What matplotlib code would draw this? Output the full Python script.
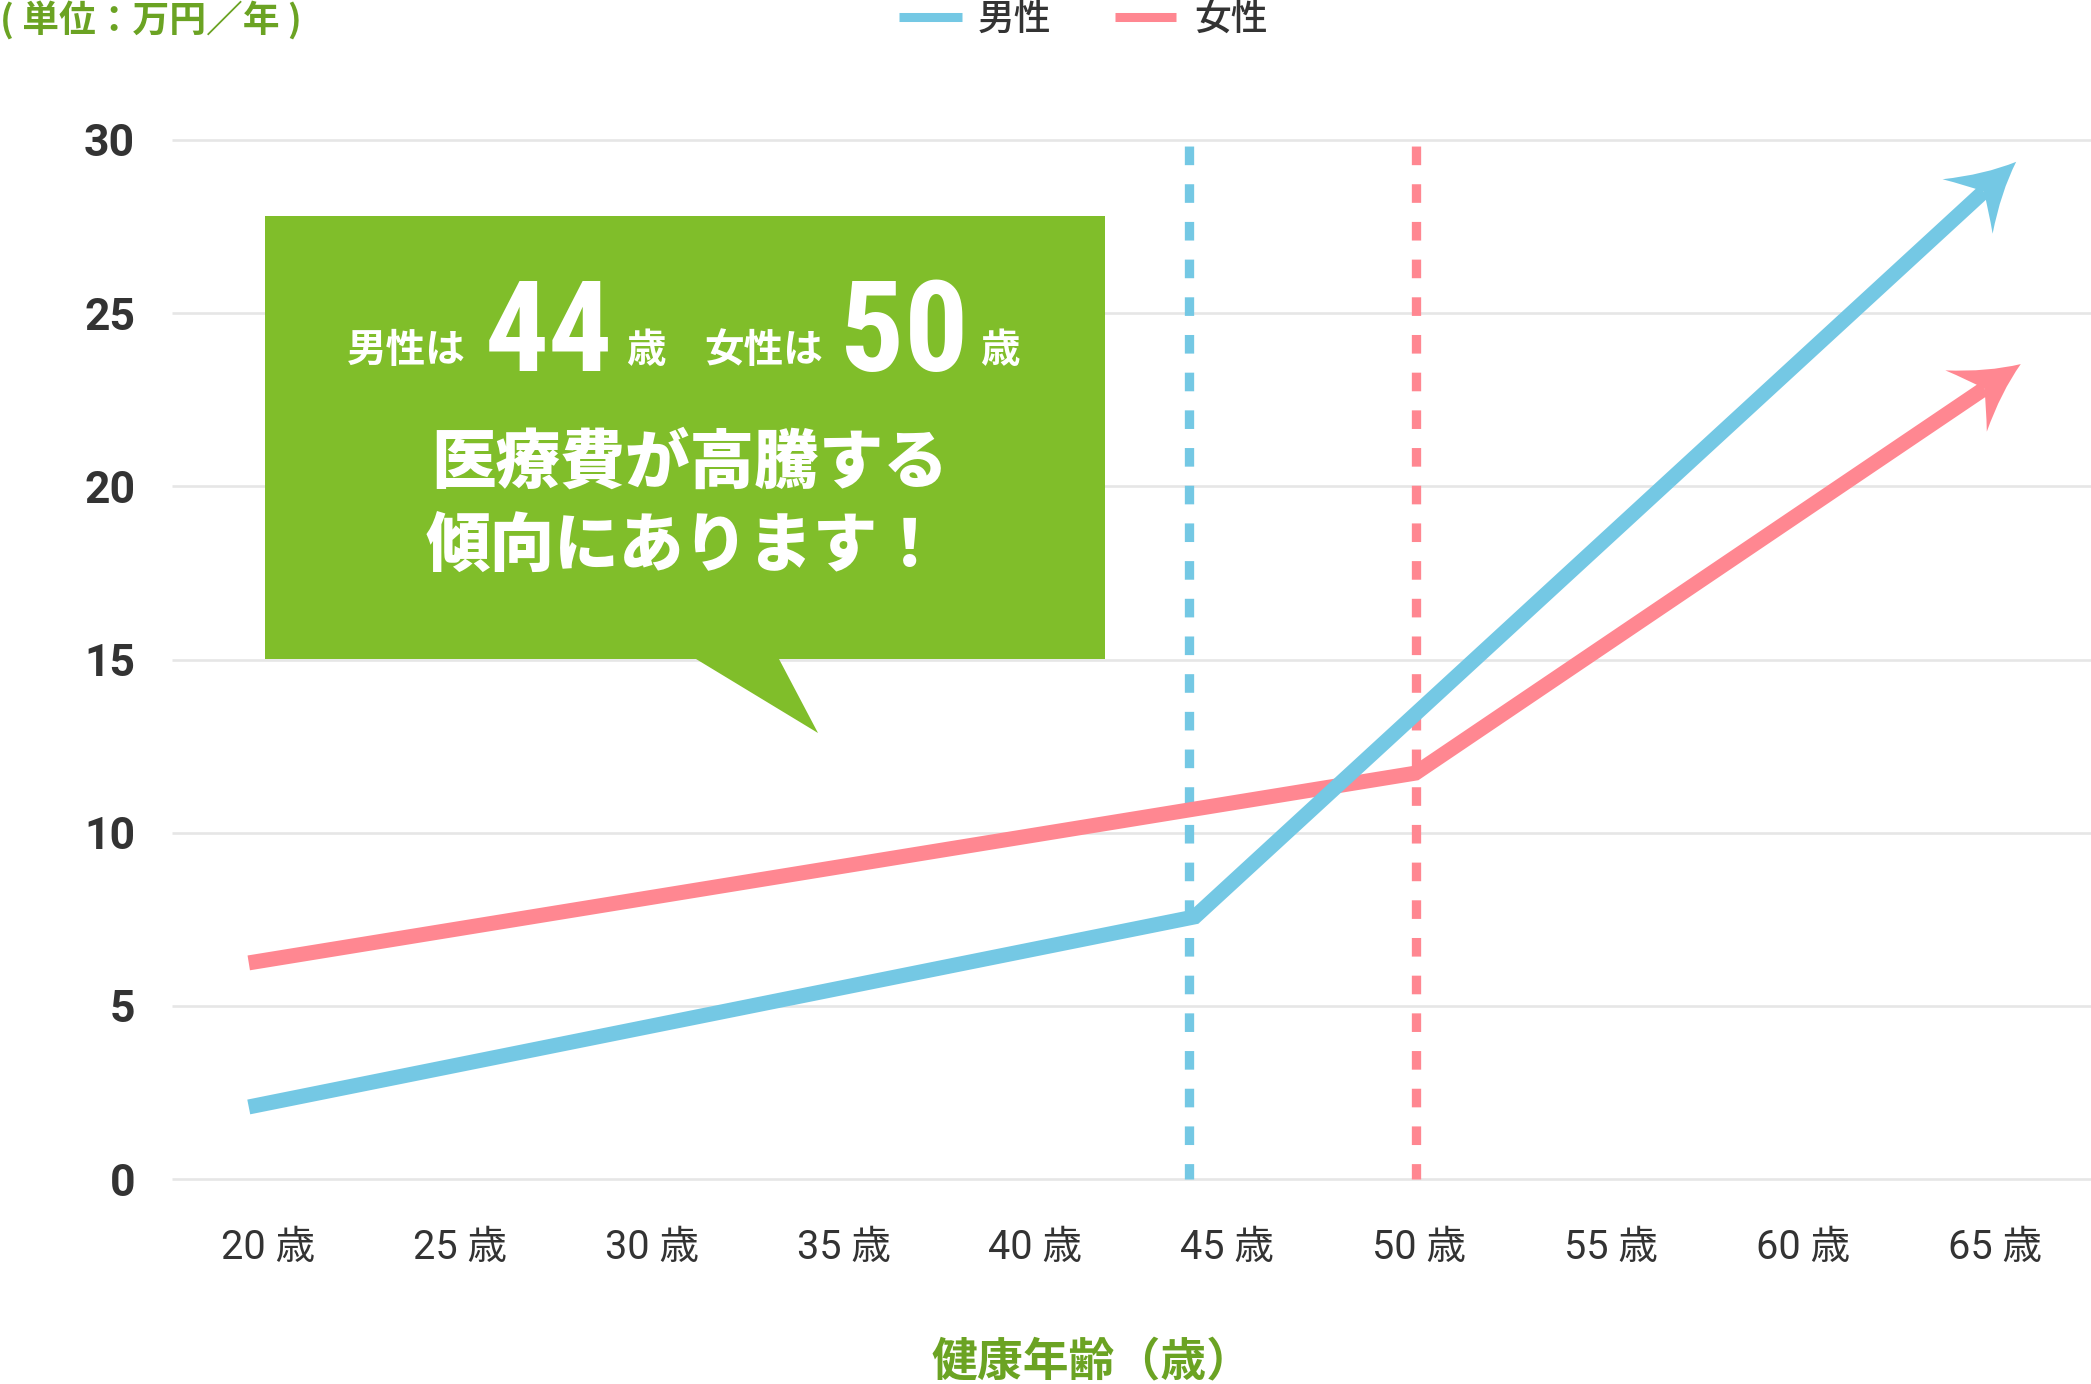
import matplotlib
matplotlib.use("Agg")
import matplotlib.pyplot as plt
import numpy as np
from matplotlib.path import Path
from matplotlib.patches import PathPatch
import matplotlib.transforms as mtransforms
from matplotlib.lines import Line2D
from matplotlib import font_manager as fm
from matplotlib.textpath import TextPath
import logging
logging.getLogger("matplotlib.font_manager").setLevel(logging.ERROR)

# ---------------- data ----------------
tick_ages = [20, 25, 30, 35, 40, 45, 50, 55, 60, 65]
tick_labels = [f"{a} 歳" for a in tick_ages]
y_ticks = [0, 5, 10, 15, 20, 25, 30]
male_age = [19.5, 44.15, 65.55]
male_cost = [2.08, 7.57, 29.37]
female_age = [19.5, 49.9, 65.67]
female_cost = [6.24, 11.72, 23.53]
male_peak_age = 44
female_peak_age = 49.9
series_names = ["男性", "女性"]
unit_label = "( 単位：万円／年 )"
x_label = "健康年齢（歳）"
callout_small = ["男性は", "歳", "女性は", "歳"]
callout_big = ["44", "50"]
callout_lines = ["医療費が高騰する", "傾向にあります！"]

# ---------------- style ----------------
W, H, DPI = 2091, 1384, 100
BLUE = "#74C8E4"
PINK = "#FF8791"
GREEN_BOX = "#80BE2A"
GREEN_TXT = "#6BA323"
DARK = "#333333"
GRID = "#E6E6E6"
JP = ["Noto Sans CJK JP", "DejaVu Sans"]
NUMJP = ["Roboto", "Noto Sans CJK JP", "DejaVu Sans"]

plt.rcParams["font.family"] = JP


def pick_narrow_font():
    cands = ["Roboto Condensed", "Liberation Sans Narrow", "DejaVu Sans Condensed",
             "Noto Sans", "Open Sans", "Roboto", "DejaVu Sans"]
    for fam in cands:
        fp = fm.FontProperties(family=fam, weight="bold", stretch="condensed")
        try:
            path = fm.findfont(fp, fallback_to_default=False)
        except Exception:
            continue
        low = path.lower()
        if "condensed" in low or "narrow" in low:
            return fm.FontProperties(fname=path)
    fp = fm.FontProperties(family="Roboto", weight="bold")
    return fm.FontProperties(fname=fm.findfont(fp))


big_fp = pick_narrow_font()


def fit_size(text, w_px, h_px):
    ext = TextPath((0, 0), text, size=100, prop=big_fp).get_extents()
    scale = DPI / 72.0
    s_h = 100 * h_px / (ext.height * scale)
    s_w = 100 * w_px / (ext.width * scale)
    return min(s_h, s_w * 1.12)


big_size = min(fit_size("44", 111, 95), fit_size("50", 104, 97))

fig = plt.figure(figsize=(W / DPI, H / DPI), dpi=DPI)
fig.patch.set_facecolor("white")


def fx(px):
    return px / W


def fy(py):
    return 1 - py / H


ax = fig.add_axes([fx(172), fy(1179), (W - 172) / W, (1179 - 140) / H])
ax.set_xlim(17.5, 67.5)
ax.set_ylim(0, 30)
for s in ax.spines.values():
    s.set_visible(False)
ax.set_facecolor("none")

# grid
ax.hlines(y_ticks, 17.5, 67.5, colors=GRID, lw=1.9, zorder=1, clip_on=False)

# ticks
ax.set_yticks(y_ticks)
ax.set_yticklabels([str(v) for v in y_ticks], fontfamily=["Roboto", "DejaVu Sans"],
                   fontweight="bold", fontsize=32, color=DARK)
ax.set_xticks(tick_ages)
ax.set_xticklabels(tick_labels, fontfamily=NUMJP, fontsize=28.5, color=DARK)
ax.tick_params(axis="y", length=0, pad=26.5)
ax.tick_params(axis="x", length=0, pad=35)

# dashed reference lines
dash = (3.4, (2, 2.05))
ax.plot([male_peak_age, male_peak_age], [30, 0], color=BLUE, lw=6.7,
        ls=dash, zorder=2, clip_on=False, dash_capstyle="butt")
ax.plot([female_peak_age, female_peak_age], [30, 0], color=PINK, lw=6.7,
        ls=dash, zorder=2, clip_on=False, dash_capstyle="butt")


def draw_series(ages, costs, color, z):
    tip = np.array([ages[-1], costs[-1]])
    prev = np.array([ages[-2], costs[-2]])
    tip_d = ax.transData.transform(tip)
    prev_d = ax.transData.transform(prev)
    d = tip_d - prev_d
    theta = np.arctan2(d[1], d[0])
    u = d / np.linalg.norm(d)
    notch = ax.transData.inverted().transform(tip_d - u * 44)
    xs = list(ages[:-1]) + [notch[0]]
    ys = list(costs[:-1]) + [notch[1]]
    ax.plot(xs, ys, color=color, lw=10.8, solid_capstyle="butt",
            solid_joinstyle="miter", zorder=z, clip_on=False)
    verts = [(0, 0), (-32, 12), (-66, 37), (-53, 17), (-44, 0),
             (-53, -17), (-66, -37), (-32, -12), (0, 0), (0, 0)]
    codes = [Path.MOVETO, Path.CURVE3, Path.CURVE3, Path.CURVE3, Path.CURVE3,
             Path.CURVE3, Path.CURVE3, Path.CURVE3, Path.CURVE3, Path.CLOSEPOLY]
    tr = mtransforms.Affine2D().rotate(theta) + mtransforms.ScaledTranslation(
        tip[0], tip[1], ax.transData)
    head = PathPatch(Path(verts, codes), transform=tr, facecolor=color,
                     edgecolor="none", zorder=z, clip_on=False)
    ax.add_patch(head)


draw_series(female_age, female_cost, PINK, 4)
draw_series(male_age, male_cost, BLUE, 5)

# ---------------- callout box ----------------
bx0, bx1, by0, by1 = 265, 1105, 216, 659
box_px = [(bx0, by0), (bx1, by0), (bx1, by1), (779, by1), (818, 733),
          (696, by1), (bx0, by1), (bx0, by0)]
box = plt.Polygon([(fx(x), fy(y)) for x, y in box_px], closed=True,
                  transform=fig.transFigure, facecolor=GREEN_BOX,
                  edgecolor="none", zorder=10)
fig.add_artist(box)

small_kw = dict(color="white", fontsize=28.5, fontweight="bold", fontfamily=JP,
                ha="center", va="center", zorder=11)
big_kw = dict(color="white", fontproperties=big_fp, ha="center",
              va="baseline", zorder=11)
fig.text(fx(406), fy(350), callout_small[0], **small_kw)
t44 = fig.text(fx(549), fy(371), callout_big[0], **big_kw)
fig.text(fx(646), fy(350), callout_small[1], **small_kw)
fig.text(fx(764), fy(350), callout_small[2], **small_kw)
t50 = fig.text(fx(904), fy(371), callout_big[1], **big_kw)
fig.text(fx(1000), fy(350), callout_small[3], **small_kw)
t44.set_fontsize(big_size)
t50.set_fontsize(big_size)

line_kw = dict(color="white", fontsize=46.5, fontweight=900, fontfamily=JP,
               ha="center", va="center", zorder=11)
fig.text(fx(690), fy(463), callout_lines[0], **line_kw)
fig.text(fx(684), fy(546), callout_lines[1], **line_kw)

# ---------------- legend ----------------
fig.add_artist(Line2D([fx(899), fx(962)], [fy(16.5), fy(16.5)], color=BLUE,
                      lw=6.5, solid_capstyle="butt", transform=fig.transFigure))
fig.add_artist(Line2D([fx(1115), fx(1176)], [fy(16.5), fy(16.5)], color=PINK,
                      lw=6.5, solid_capstyle="butt", transform=fig.transFigure))
fig.text(fx(978), fy(19), series_names[0], color=DARK, fontsize=26.5,
         fontfamily=JP, fontweight=500, ha="left", va="center")
fig.text(fx(1194), fy(19), series_names[1], color=DARK, fontsize=26.5,
         fontfamily=JP, fontweight=500, ha="left", va="center")

# ---------------- unit & axis label ----------------
fig.text(fx(0), fy(20), unit_label, color=GREEN_TXT, fontsize=26.5,
         fontweight="bold", fontfamily=JP, ha="left", va="center")
fig.text(fx(1092), fy(1362), x_label, color=GREEN_TXT, fontsize=33,
         fontweight="bold", fontfamily=JP, ha="center", va="center")

fig.savefig("out.png", dpi=DPI, facecolor="white")
